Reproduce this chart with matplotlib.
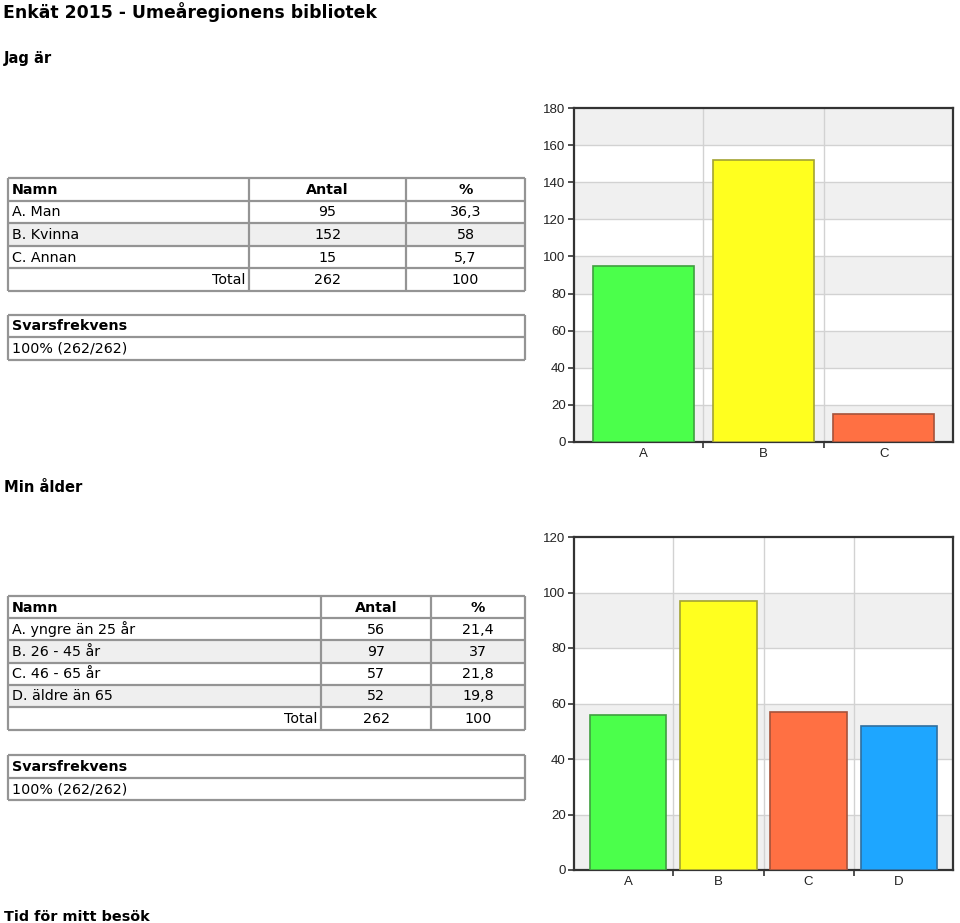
import matplotlib
matplotlib.use("Agg")
import matplotlib.pyplot as plt
from matplotlib.lines import Line2D
from matplotlib.patches import Rectangle

# ---------------- data ----------------
title = "Enkät 2015 - Umeåregionens bibliotek"
section1 = "Jag är"
section2 = "Min ålder"
section3 = "Tid för mitt besök"

q1_names = ["A. Man", "B. Kvinna", "C. Annan"]
q1_counts = [95, 152, 15]
q1_pct = ["36,3", "58", "5,7"]
q1_total = [262, "100"]
q1_resp = "100% (262/262)"
q1_cats = ["A", "B", "C"]

q2_names = ["A. yngre än 25 år", "B. 26 - 45 år", "C. 46 - 65 år", "D. äldre än 65"]
q2_counts = [56, 97, 57, 52]
q2_pct = ["21,4", "37", "21,8", "19,8"]
q2_total = [262, "100"]
q2_resp = "100% (262/262)"
q2_cats = ["A", "B", "C", "D"]

bar_colors = ["#4bff4b", "#ffff1f", "#ff7043", "#1ea6ff"]
edge_colors = ["#3f9f3f", "#a3a333", "#a5523a", "#2f6f9f"]

W, H = 960, 923
fig = plt.figure(figsize=(W / 100, H / 100), dpi=100)
fig.patch.set_facecolor("white")

# overlay axes in pixel coordinates
ov = fig.add_axes([0, 0, 1, 1])
ov.set_xlim(0, W)
ov.set_ylim(H, 0)
ov.axis("off")

FONT = "DejaVu Sans"
border = "#949494"

ov.text(3, 17.5, title, fontsize=12.4, fontweight="bold", family=FONT, va="baseline", ha="left")
ov.text(4, 63, section1, fontsize=10.6, fontweight="bold", family=FONT, va="baseline")
ov.text(4, 492, section2, fontsize=10.6, fontweight="bold", family=FONT, va="baseline")
ov.text(4, 921, section3, fontsize=10.4, fontweight="bold", family=FONT, va="baseline")


def hline(x0, x1, y, lw=1.6):
    ov.add_line(Line2D([x0, x1], [y, y], color=border, lw=lw, solid_capstyle="butt"))


def vline(x, y0, y1, lw=1.6):
    ov.add_line(Line2D([x, x], [y0, y1], color=border, lw=lw, solid_capstyle="butt"))


def draw_table(names, counts, pct, total, left, right, sep1, sep2, rows_y, shaded):
    fs = 10.3
    for i in shaded:
        y0, y1 = rows_y[i + 1], rows_y[i + 2]
        ov.add_patch(Rectangle((left, y0), right - left, y1 - y0, color="#efefef", lw=0, zorder=0))
    for y in rows_y:
        hline(left, right, y)
    for x in (left, sep1, sep2, right):
        vline(x, rows_y[0], rows_y[-1])
    c2 = (sep1 + sep2) / 2
    c3 = (sep2 + right) / 2

    def cy(i):
        return (rows_y[i] + rows_y[i + 1]) / 2 + 0.5

    ov.text(left + 4, cy(0), "Namn", fontsize=fs, fontweight="bold", family=FONT, va="center")
    ov.text(c2, cy(0), "Antal", fontsize=fs, fontweight="bold", family=FONT, va="center", ha="center")
    ov.text(c3, cy(0), "%", fontsize=fs, fontweight="bold", family=FONT, va="center", ha="center")
    for i, (n, c, p) in enumerate(zip(names, counts, pct)):
        ov.text(left + 4, cy(i + 1), n, fontsize=fs, family=FONT, va="center")
        ov.text(c2, cy(i + 1), str(c), fontsize=fs, family=FONT, va="center", ha="center")
        ov.text(c3, cy(i + 1), p, fontsize=fs, family=FONT, va="center", ha="center")
    k = len(names) + 1
    ov.text(sep1 - 4, cy(k), "Total", fontsize=fs, family=FONT, va="center", ha="right")
    ov.text(c2, cy(k), str(total[0]), fontsize=fs, family=FONT, va="center", ha="center")
    ov.text(c3, cy(k), total[1], fontsize=fs, family=FONT, va="center", ha="center")


def draw_resp(text, left, right, ys):
    fs = 10.3
    for y in ys:
        hline(left, right, y)
    vline(left, ys[0], ys[-1])
    vline(right, ys[0], ys[-1])
    ov.text(left + 4, (ys[0] + ys[1]) / 2 + 0.5, "Svarsfrekvens", fontsize=fs, fontweight="bold",
            family=FONT, va="center")
    ov.text(left + 4, (ys[1] + ys[2]) / 2 + 0.5, text, fontsize=fs, family=FONT, va="center")


draw_table(q1_names, q1_counts, q1_pct, q1_total, 8, 525, 249, 406,
           [178, 201, 223, 246, 268, 291], shaded=[1])
draw_resp(q1_resp, 8, 525, [315, 337, 360])

draw_table(q2_names, q2_counts, q2_pct, q2_total, 8, 525, 321, 431,
           [596, 618, 640, 663, 685, 707, 730], shaded=[1, 3])
draw_resp(q2_resp, 8, 525, [755, 778, 800])


def bar_chart(rect_px, cats, vals, ymax, step, margin_units, width):
    l, t, r, b = rect_px
    ax = fig.add_axes([l / W, 1 - b / H, (r - l) / W, (b - t) / H])
    n = len(cats)
    ax.set_xlim(-0.5 - margin_units, n - 0.5 + margin_units)
    ax.set_ylim(0, ymax)
    for k, y0 in enumerate(range(0, ymax, step)):
        if k % 2 == 0:
            ax.axhspan(y0, y0 + step, color="#f0f0f0", lw=0, zorder=0)
    for y in range(step, ymax, step):
        ax.axhline(y, color="#d2d2d2", lw=1, zorder=1)
    for x in range(1, n):
        ax.axvline(x - 0.5, color="#d2d2d2", lw=1, zorder=1)
    ax.bar(range(n), vals, width=width, color=bar_colors[:n], edgecolor=edge_colors[:n],
           lw=1.2, zorder=3)
    ax.set_yticks(range(0, ymax + 1, step))
    ax.set_xticks(range(n))
    ax.set_xticklabels(cats)
    ax.set_xticks([x - 0.5 for x in range(1, n)], minor=True)
    ax.tick_params(axis="x", which="major", length=0, pad=4.5, labelsize=9.5, labelcolor="#222")
    ax.tick_params(axis="x", which="minor", length=4, width=1.2, color="#333")
    ax.tick_params(axis="y", length=4, width=1.2, color="#333", pad=2, labelsize=9.5, labelcolor="#222")
    for lab in ax.get_xticklabels() + ax.get_yticklabels():
        lab.set_family("Liberation Sans")
    for s in ax.spines.values():
        s.set_color("#333333")
        s.set_linewidth(1.6)
    ax.set_facecolor("white")
    return ax


bar_chart((574, 108, 953, 442), q1_cats, q1_counts, 180, 20, 0.075, 0.84)
bar_chart((574, 537, 953, 870), q2_cats, q2_counts, 120, 20, 0.1, 0.85)

fig.savefig("out.png", dpi=100, facecolor="white")
